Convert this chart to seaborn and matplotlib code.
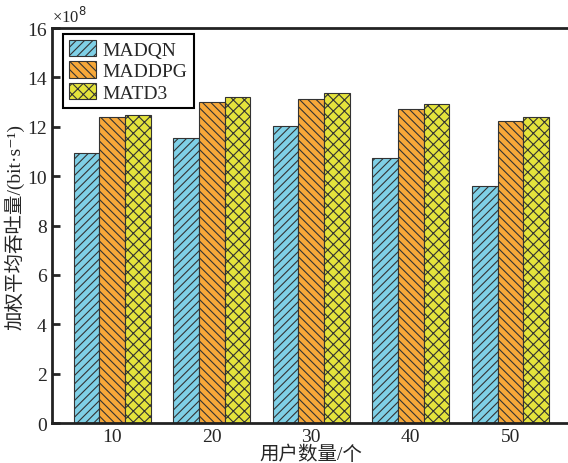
import pandas as pd
import numpy as np
import matplotlib
matplotlib.use("Agg")
import matplotlib.pyplot as plt
import seaborn as sns

# data (units of 1e8 bit/s)
users = ["10", "20", "30", "40", "50"]
madqn = [10.93, 11.54, 12.02, 10.73, 9.60]
maddpg = [12.39, 13.00, 13.12, 12.71, 12.23]
matd3 = [12.47, 13.20, 13.36, 12.91, 12.39]
methods = ["MADQN", "MADDPG", "MATD3"]

colors = ["#7fd0e6", "#f7a839", "#e4e33c"]
hatches = ["////", "\\\\\\\\", "xxx"]

df = pd.DataFrame({
    "users": users * 3,
    "value": madqn + maddpg + matd3,
    "method": np.repeat(methods, len(users)),
})

sns.set_style("ticks")
plt.rcParams["font.family"] = ["Liberation Serif", "Noto Sans CJK SC", "DejaVu Serif"]
plt.rcParams["hatch.linewidth"] = 0.8
plt.rcParams["hatch.color"] = "#2a2a2a"

fig = plt.figure(figsize=(5.68, 4.64), dpi=100)
ax = fig.add_axes([0.0907, 0.086, 0.9146, 0.8515])

sns.barplot(data=df, x="users", y="value", hue="method", palette=colors,
            width=0.77, ax=ax, edgecolor="#333333", linewidth=0.8,
            saturation=1, legend=False)

for cont, h in zip(ax.containers, hatches):
    for bar in cont:
        bar.set_hatch(h)

ax.legend(ax.containers, methods, loc="upper left",
          bbox_to_anchor=(0.022, 0.985), borderaxespad=0, fontsize=14,
          frameon=True, fancybox=False, edgecolor="black",
          framealpha=1, handlelength=1.4,
          handleheight=0.9, handletextpad=0.35, labelspacing=0.15,
          borderpad=0.3)
ax.get_legend().get_frame().set_linewidth(1.5)

ax.set_ylim(0, 16)
ax.set_yticks(range(0, 17, 2))
ax.set_xlim(-0.61, 4.61)
ax.tick_params(direction="in", length=6, width=2, labelsize=14)
ax.tick_params(axis="x", length=4, width=1)
for s in ax.spines.values():
    s.set_linewidth(2)
    s.set_color("#222222")
ax.spines["right"].set_visible(False)

ax.set_xlabel("用户数量/个", fontsize=14, labelpad=0)
ax.set_ylabel("加权平均吞吐量/(bit·s⁻¹)", fontsize=14, labelpad=2)
ax.text(0.0, 1.005, "×10$^8$", transform=ax.transAxes, fontsize=12,
        ha="left", va="bottom")

fig.savefig("out.png", dpi=100)
